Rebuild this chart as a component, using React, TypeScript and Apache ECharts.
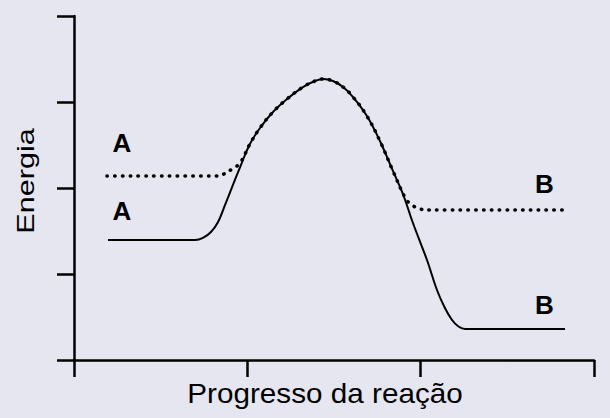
import React, { useEffect, useRef } from "react";
import * as echarts from "echarts";

// valores (eixo x: 0..3, eixo y: 0..4)
const solidX = [0.196, 0.698, 0.744, 0.79, 0.831, 0.871, 0.917, 0.963, 1.015, 1.073, 1.148, 1.229, 1.321, 1.39, 1.437, 1.494, 1.552, 1.61, 1.69, 1.765, 1.84, 1.898, 1.956, 2.037, 2.094, 2.14, 2.181, 2.215, 2.256, 2.833];
const solidY = [1.395, 1.395, 1.419, 1.488, 1.605, 1.802, 2.035, 2.267, 2.512, 2.698, 2.884, 3.035, 3.174, 3.244, 3.267, 3.244, 3.174, 3.058, 2.837, 2.547, 2.198, 1.93, 1.59, 1.16, 0.814, 0.605, 0.465, 0.395, 0.36, 0.36];

const dottedX = [0.19, 0.813, 0.865, 0.912, 0.958, 1.015, 1.073, 1.148, 1.229, 1.321, 1.39, 1.437, 1.494, 1.552, 1.61, 1.69, 1.765, 1.84, 1.915, 1.95, 1.996, 2.054, 2.844];
const dottedY = [2.14, 2.14, 2.163, 2.221, 2.291, 2.512, 2.698, 2.884, 3.035, 3.174, 3.244, 3.267, 3.244, 3.174, 3.058, 2.837, 2.547, 2.198, 1.872, 1.802, 1.756, 1.744, 1.744];

const labelNames = ["A", "A", "B", "B"];
const labelX = [0.277, 0.277, 2.714, 2.714];
const labelY = [2.523, 1.738, 2.052, 0.634];

const xTicks = [0, 1, 2, 3];
const yTicks = [0, 1, 2, 3, 4];

const FONT = "'Liberation Sans', Arial, sans-serif";
const INK = "#000";

const App = () => {
  const chartRef = useRef(null);

  useEffect(() => {
    const chartDom = chartRef.current;
    if (!chartDom) return;
    const myChart = echarts.init(chartDom, null, { renderer: "svg" });

    const axisCommon = {
      type: "value",
      axisLine: { show: true, onZero: false, lineStyle: { color: INK, width: 2.5 } },
      axisTick: { show: true, inside: false, length: 17, lineStyle: { color: INK, width: 2.5 } },
      axisLabel: { show: false },
      splitLine: { show: false },
    };

    const option = {
      animation: false,
      backgroundColor: "#e6e6f0",
      grid: { left: 74, right: 16, top: 16, bottom: 58 },
      xAxis: { ...axisCommon, min: xTicks[0], max: xTicks[xTicks.length - 1], interval: 1 },
      yAxis: { ...axisCommon, min: yTicks[0], max: yTicks[yTicks.length - 1], interval: 1 },
      graphic: [
        {
          type: "text",
          x: 26,
          y: 181,
          rotation: Math.PI / 2,
          scaleX: 1.33,
          style: { text: "Energia", font: `23px ${FONT}`, fill: INK, align: "center", verticalAlign: "middle" },
        },
        {
          type: "text",
          x: 325,
          y: 393,
          scaleX: 1.06,
          style: { text: "Progresso da reação", font: `28px ${FONT}`, fill: INK, align: "center", verticalAlign: "middle" },
        },
      ],
      series: [
        {
          type: "line",
          data: solidX.map((x, i) => [x, solidY[i]]),
          showSymbol: false,
          smooth: 0.4,
          lineStyle: { color: INK, width: 2 },
          z: 3,
        },
        {
          type: "line",
          data: dottedX.map((x, i) => [x, dottedY[i]]),
          showSymbol: false,
          smooth: 0.4,
          lineStyle: { color: INK, width: 3.5, type: [0.5, 7.3], cap: "round" },
          z: 4,
        },
        {
          type: "scatter",
          data: labelNames.map((n, i) => ({ name: n, value: [labelX[i], labelY[i]] })),
          symbolSize: 0,
          itemStyle: { opacity: 1, color: INK },
          label: {
            show: true,
            position: "inside",
            formatter: "{b}",
            fontFamily: FONT,
            fontSize: 26,
            fontWeight: "bold",
            color: INK,
            opacity: 1,
            textBorderWidth: 0,
          },
          silent: true,
          z: 5,
        },
      ],
    };

    myChart.setOption(option);

    return () => {
      myChart.dispose();
    };
  }, []);

  return (
    <div
      ref={chartRef}
      style={{ position: "absolute", left: 0, top: 0, width: 610, height: 418 }}
    ></div>
  );
};

export default App;
